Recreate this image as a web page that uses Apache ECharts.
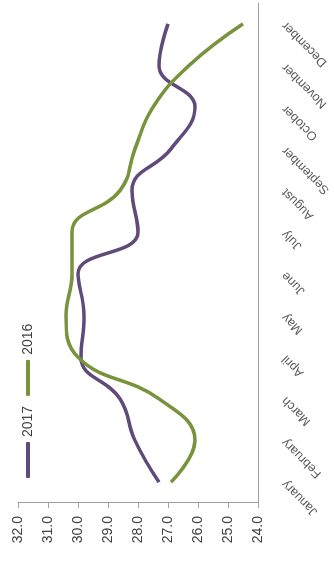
<!DOCTYPE html>
<html>
<head>
<meta charset="utf-8">
<script src="https://cdn.jsdelivr.net/npm/echarts@6/dist/echarts.min.js"></script>
<style>
html,body{margin:0;padding:0;width:334px;height:561px;overflow:hidden;background:#fff;}
#wrap{position:absolute;left:0;top:0;width:561px;height:334px;transform-origin:0 0;transform:translate(0,561px) rotate(-90deg);}
</style>
</head>
<body>
<div id="wrap"></div>
<script>
const months = ["January","February","March","April","May","June","July","August","September","October","November","December"];
const values2017 = [27.3, 28.1, 28.6, 29.9, 29.8, 30.0, 28.0, 28.2, 26.9, 26.1, 27.3, 27.0];
const values2016 = [26.9, 26.1, 27.3, 30.0, 30.4, 30.2, 30.2, 28.6, 28.1, 27.5, 26.3, 24.5];
const seriesNames = ["2017", "2016"];
const valueMin = 24, valueMax = 32, valueStep = 1;

const chart = echarts.init(document.getElementById('wrap'), null, {renderer:'canvas'});
const font = "'Liberation Sans', Arial, sans-serif";
chart.setOption({
  animation:false,
  legend:{
    left:78, top:16,
    icon:'roundRect', itemWidth:36, itemHeight:4, itemGap:10, itemSpacing:4,
    textStyle:{fontFamily:font, fontSize:14, color:'#404040'},
    data:seriesNames
  },
  grid:{left:58, right:3, top:18, bottom:76},
  xAxis:{
    type:'category', data:months, boundaryGap:true,
    axisLine:{lineStyle:{color:'#a0a0a0'}},
    axisTick:{lineStyle:{color:'#a0a0a0'}, length:5},
    axisLabel:{rotate:45, interval:0, margin:26, fontFamily:font, fontSize:12.5, color:'#595959'}
  },
  yAxis:{
    type:'value', min:valueMin, max:valueMax, interval:valueStep,
    axisLine:{show:true, lineStyle:{color:'#a0a0a0'}},
    axisTick:{show:true, length:5, lineStyle:{color:'#a0a0a0'}},
    splitLine:{show:false},
    axisLabel:{margin:13, fontFamily:font, fontSize:14, color:'#404040', formatter:v=>v.toFixed(1)}
  },
  series:[
    {name:seriesNames[0], type:'line', data:values2017, smooth:0.45, symbol:'none',
     lineStyle:{width:3.5, color:'#604a7b'}, itemStyle:{color:'#604a7b'}},
    {name:seriesNames[1], type:'line', data:values2016, smooth:0.45, symbol:'none',
     lineStyle:{width:3.5, color:'#77933c'}, itemStyle:{color:'#77933c'}}
  ]
});
</script>
</body>
</html>
